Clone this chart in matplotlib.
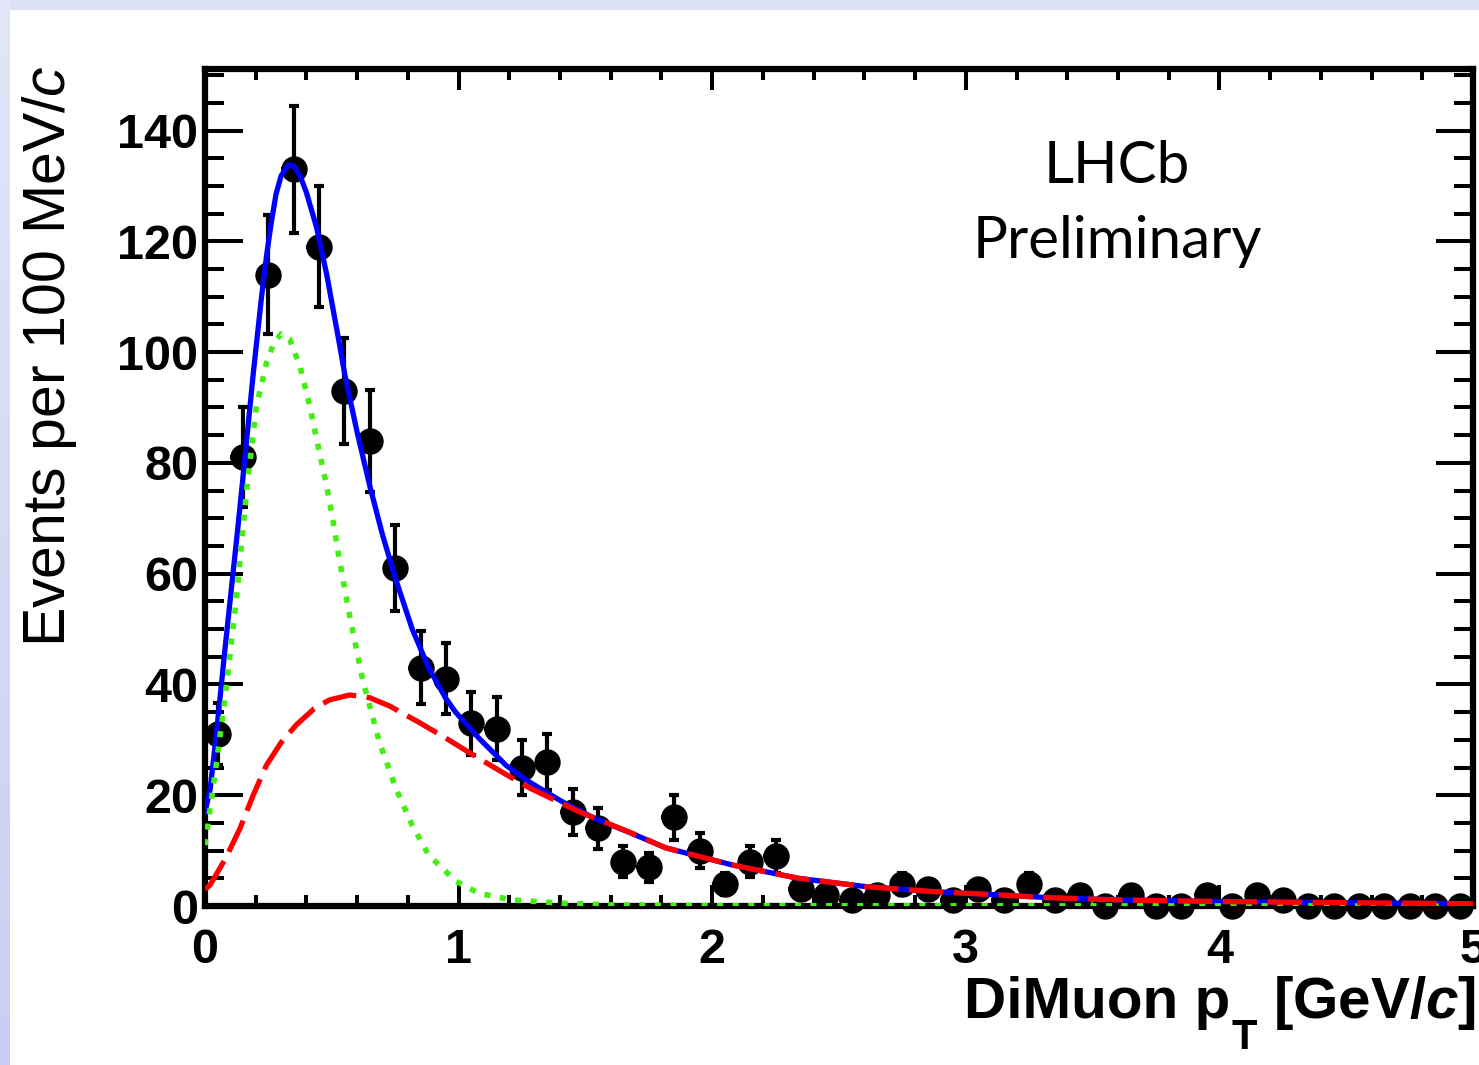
import numpy as np
import matplotlib.pyplot as plt
from matplotlib.patches import Rectangle
from matplotlib.colors import LinearSegmentedColormap
from matplotlib.ticker import MultipleLocator

plt.rcParams['mathtext.fontset'] = 'custom'
plt.rcParams['mathtext.rm'] = 'Liberation Sans:bold'
plt.rcParams['mathtext.it'] = 'Liberation Sans:italic:bold'
plt.rcParams['mathtext.sf'] = 'Liberation Sans:italic'

# data: events per 100 MeV bin, bin centres 0.05 ... 4.95
pt = np.round(np.arange(0.05, 5.0, 0.1), 2)
counts = [31, 81, 114, 133, 119, 93, 84, 61, 43, 41,
          33, 32, 25, 26, 17, 14, 8, 7, 16, 10,
          4, 8, 9, 3, 2, 1, 2, 4, 3, 1,
          3, 1, 4, 1, 2, 0, 2, 0, 0, 2,
          0, 2, 1, 0, 0, 0, 0, 0, 0, 0]
errors = [5.6, 9.0, 10.7, 11.5, 10.9, 9.6, 9.2, 7.8, 6.6, 6.4,
          5.7, 5.7, 5.0, 5.1, 4.1, 3.7, 2.8, 2.6, 4.0, 3.2,
          2.0, 2.8, 3.0, 1.7, 1.4, 1.0, 1.4, 2.0, 1.7, 1.0,
          1.7, 1.0, 2.0, 1.0, 1.4, 0, 1.4, 0, 0, 1.4,
          0, 1.4, 1.0, 0, 0, 0, 0, 0, 0, 0]

# fit curves
total_x = [0.0, 0.02, 0.046, 0.079, 0.111, 0.13, 0.15, 0.19, 0.223, 0.243,
           0.26, 0.28, 0.30, 0.328, 0.35, 0.375, 0.40, 0.44, 0.48, 0.53,
           0.551, 0.60, 0.65, 0.70, 0.752, 0.817, 0.882, 0.948, 0.988, 1.08,
           1.187, 1.275, 1.406, 1.537, 1.667, 1.817, 2.08, 2.34, 2.605, 2.87,
           3.13, 3.33, 3.6, 4.0, 4.5, 5.0]
total_y = [17, 21, 31.5, 46.5, 60.3, 68.5, 77.5, 96, 110, 117.5,
           123, 128.5, 131.8, 133.8, 133.6, 131.8, 128.8, 122.5, 114, 101.5,
           96, 85.5, 75.8, 67, 59, 50, 43, 37.6, 35, 30.3,
           25.4, 22.5, 18.9, 15.8, 13.4, 10.5, 7.4, 5, 3.5, 2.6,
           2.0, 1.5, 1.1, 0.8, 0.6, 0.4]

bkg_x = [0.0, 0.02, 0.08, 0.138, 0.19, 0.242, 0.30, 0.36, 0.43, 0.49,
         0.571, 0.65, 0.728, 0.846, 0.95, 1.056, 1.17, 1.28, 1.476, 1.67,
         1.817, 2.08, 2.34, 2.605, 2.87, 3.13, 3.33, 3.6, 4.0, 4.5, 5.0]
bkg_y = [3.0, 3.8, 8.5, 14, 20, 25.4, 29.5, 32.7, 35.6, 37.2,
         38.1, 37.6, 36.1, 33.1, 30.3, 27.3, 24.2, 21.3, 17, 13.4,
         10.5, 7.4, 5, 3.5, 2.6, 2.0, 1.5, 1.1, 0.8, 0.6, 0.4]

sig_x = [0.0, 0.04, 0.079, 0.124, 0.164, 0.203, 0.243, 0.27, 0.30, 0.334,
         0.374, 0.413, 0.44, 0.479, 0.505, 0.53, 0.57, 0.622, 0.687, 0.752,
         0.817, 0.882, 0.988, 1.08, 1.21, 1.41, 1.6, 2.0, 5.0]
sig_y = [11, 24, 37.5, 55.5, 75, 90.3, 98.1, 101.5, 103.3, 102.3,
         97.5, 90.3, 84.3, 76, 69.5, 62.5, 52.5, 40.8, 29.7, 21.3,
         14.6, 9.2, 4.5, 2.3, 1.1, 0.5, 0.2, 0.05, 0.0]

W, H = 1479, 1065
fig = plt.figure(figsize=(W / 100, H / 100), dpi=100, facecolor='#dce1f6')
fig.add_artist(Rectangle((10 / W, 0), 1, 1 - 10 / H, transform=fig.transFigure,
                         facecolor='white', edgecolor='none', zorder=-1))

# bluish slide border on the left
gax = fig.add_axes([0, 0, 10 / W, 1])
gax.imshow(np.linspace(0, 1, 256)[:, None], aspect='auto',
           cmap=LinearSegmentedColormap.from_list('edge', ['#e2e6f8', '#c8cff2']))
gax.axis('off')

ax = fig.add_axes([205 / W, 159 / H, (1473 - 205) / W, (906 - 68.5) / H])

# data points
ax.errorbar(pt, counts, yerr=errors, fmt='none', ecolor='black',
            elinewidth=3.0, capsize=3.5, capthick=3.0, zorder=3)
ax.errorbar(pt, counts, xerr=0.05, fmt='none', ecolor='black',
            elinewidth=3.0, capsize=0, zorder=3)
ax.plot(pt, counts, 'o', color='black', ms=18, clip_on=False, zorder=4)

# fit components
ax.plot(total_x, total_y, color='#0000ff', lw=3.8, zorder=5)
ax.plot(sig_x, sig_y, color='#44ee11', lw=4.0, linestyle=(0, (1.1, 1.7)), zorder=6)
ax.plot(bkg_x, bkg_y, color='#ff0000', lw=3.8, linestyle=(0, (6.5, 2.0)), zorder=7)

ax.set_xlim(0, 5)
ax.set_ylim(0, 151.2)

ax.xaxis.set_major_locator(MultipleLocator(1))
ax.xaxis.set_minor_locator(MultipleLocator(0.2))
ax.yaxis.set_major_locator(MultipleLocator(20))
ax.yaxis.set_minor_locator(MultipleLocator(5))

ax.tick_params(which='both', direction='in', top=True, right=True, width=2.9, colors='black')
ax.tick_params(axis='y', which='major', length=27, pad=5)
ax.tick_params(axis='y', which='minor', length=14)
ax.tick_params(axis='x', which='major', length=15, pad=16)
ax.tick_params(axis='x', which='minor', length=8)

for lab in ax.get_xticklabels() + ax.get_yticklabels():
    lab.set_fontfamily('Liberation Sans')
    lab.set_fontweight('bold')
    lab.set_fontsize(35)

for sp in ax.spines.values():
    sp.set_linewidth(4.5)

fig.text(50 / W, 1 - 65 / H, 'Events per 100 MeV/$\\mathsf{c}$', rotation=90,
         ha='center', va='top', fontsize=42.5, family='Liberation Sans')

# x title built from pieces so the subscript T hangs below the baseline
r = fig.canvas.get_renderer()
t3 = fig.text(1476 / W, 47 / H, '[GeV/$c$]', ha='right', va='baseline',
              fontsize=42, fontweight='bold', family='Liberation Sans')
x3 = t3.get_window_extent(r).x0
t2 = fig.text((x3 - 16) / W, 16 / H, 'T', ha='right', va='baseline',
              fontsize=30, fontweight='bold', family='Liberation Sans')
x2 = t2.get_window_extent(r).x0
fig.text((x2 - 1) / W, 47 / H, 'DiMuon p', ha='right', va='baseline',
         fontsize=42, fontweight='bold', family='Liberation Sans')

fig.text(1117 / W, 1 - 183 / H, 'LHCb', ha='center', va='baseline',
         fontsize=42, family='Lato')
fig.text(1117 / W, 1 - 258 / H, 'Preliminary', ha='center', va='baseline',
         fontsize=42, family='Lato')

fig.savefig('out.png', dpi=100, facecolor=fig.get_facecolor())
